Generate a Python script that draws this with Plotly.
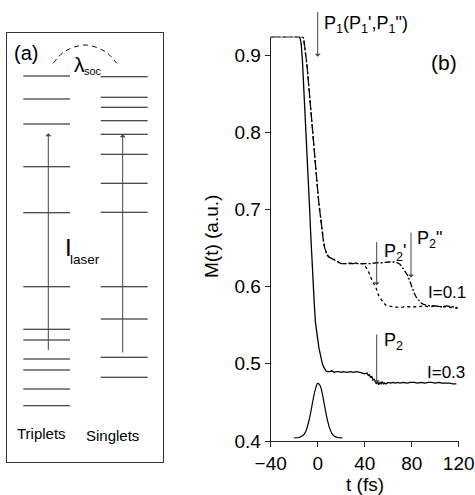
import plotly.graph_objects as go

W, H = 475, 495

# ---------------- data: panel (b) ----------------
# I = 0.3 (solid)
t_03 = [-40, -16, -15, -14, -13, -12, -11, -10, -9, -8, -7, -6, -5, -4, -3, -2, -1, 0, 1, 2, 3, 4, 5, 6, 7, 8,
        10, 12, 14, 16, 18, 20, 22, 25, 28, 30, 33, 36, 38, 40, 42, 43, 44, 45, 46, 47, 48, 49, 50, 51, 52, 53,
        54, 55, 56, 57, 58, 60, 62, 64, 66, 68, 70, 73, 76, 79, 82, 85, 88, 91, 94, 97, 100, 103, 106, 109,
        112, 115, 118]
m_03 = [0.924, 0.924, 0.922, 0.914, 0.893, 0.864, 0.837, 0.810, 0.776, 0.741, 0.705, 0.670, 0.634, 0.605,
        0.580, 0.555, 0.541, 0.530, 0.521, 0.514, 0.506, 0.500, 0.496, 0.493, 0.491, 0.490,
        0.490, 0.491, 0.489, 0.490, 0.490, 0.489, 0.490, 0.489, 0.490, 0.489, 0.490, 0.489, 0.488, 0.487,
        0.488, 0.485, 0.486, 0.482, 0.484, 0.479, 0.480, 0.476, 0.474, 0.477, 0.473, 0.476, 0.474, 0.477,
        0.474, 0.475, 0.474, 0.476, 0.475, 0.476, 0.475, 0.476, 0.475, 0.476, 0.475, 0.476, 0.476, 0.475,
        0.476, 0.475, 0.476, 0.476, 0.475, 0.476, 0.475, 0.475, 0.475, 0.474, 0.474]

# I = 0.1, path through P2' (dotted)
t_01a = [-40, -13, -12, -11, -10, -9, -8, -7, -6, -5, -4, -3, -2, -1, 0, 1, 2, 3, 4, 5, 6, 7, 8, 10, 12, 14,
         16, 18, 20, 25, 30, 35, 38, 40, 42, 44, 46, 48, 50, 52, 54, 56, 58, 60, 65, 70, 75, 80, 85, 90, 95,
         100, 105, 110, 115, 119]
m_01a = [0.924, 0.924, 0.922, 0.912, 0.898, 0.885, 0.866, 0.848, 0.833, 0.815, 0.795, 0.778, 0.760, 0.742,
         0.725, 0.708, 0.695, 0.680, 0.668, 0.658, 0.650, 0.645, 0.641, 0.638, 0.637, 0.635, 0.633, 0.632,
         0.630, 0.630, 0.631, 0.630, 0.630, 0.628, 0.623, 0.617, 0.609, 0.603, 0.597, 0.588, 0.583, 0.579,
         0.576, 0.575, 0.574, 0.573, 0.574, 0.574, 0.574, 0.575, 0.574, 0.575, 0.574, 0.574, 0.573, 0.572]

# I = 0.1, path through P2'' (dash-dot)
t_01b = [-40, -13, -12, -11, -10, -9, -8, -7, -6, -5, -4, -3, -2, -1, 0, 1, 2, 3, 4, 5, 6, 7, 8, 10, 12, 14,
         16, 18, 20, 25, 30, 35, 38, 45, 50, 55, 60, 65, 68, 70, 72, 74, 76, 78, 80, 82, 84, 86, 88, 90, 93,
         96, 100, 105, 110, 115, 119]
m_01b = [0.924, 0.924, 0.922, 0.912, 0.898, 0.885, 0.866, 0.848, 0.833, 0.815, 0.795, 0.778, 0.760, 0.742,
         0.725, 0.708, 0.695, 0.680, 0.668, 0.658, 0.650, 0.645, 0.641, 0.638, 0.637, 0.635, 0.633, 0.632,
         0.630, 0.630, 0.630, 0.630, 0.630, 0.630, 0.631, 0.631, 0.632, 0.632, 0.631, 0.629, 0.625, 0.621,
         0.616, 0.609, 0.600, 0.592, 0.586, 0.582, 0.579, 0.577, 0.576, 0.575, 0.575, 0.574, 0.575, 0.574, 0.573]

# laser pulse envelope (drawn on the M scale near the bottom)
t_pulse = [-20, -16, -14, -12, -10, -8, -6, -4, -2, 0, 2, 4, 6, 8, 10, 12, 14, 17, 21]
m_pulse = [0.404, 0.4045, 0.406, 0.408, 0.413, 0.423, 0.4365, 0.453, 0.467, 0.4747, 0.472, 0.4606, 0.4445,
           0.429, 0.4174, 0.410, 0.4064, 0.4045, 0.404]

x_ticks = [-40, 0, 40, 80, 120]
y_ticks = [0.4, 0.5, 0.6, 0.7, 0.8, 0.9]
y_tick_text = ["0.4", "0.5", "0.6", "0.7", "0.8", "0.9"]

# arrows (time, head M, tail M)
arrow_t = [0, 50.2, 79.4, 50.2]
arrow_head = [0.898, 0.602, 0.612, 0.475]
arrow_tail = [0.958, 0.660, 0.672, 0.540]

# ---------------- data: panel (a) level diagram ----------------
triplet_levels = [385.7, 362.7, 337.7, 295, 249, 175, 132.4, 121.7, 102.7, 91.7, 72.7, 56]
singlet_levels = [385, 364.4, 354.4, 341, 327.4, 307.4, 278.4, 249.4, 175, 142.7, 104.4, 84.4]

# ---------------- helpers ----------------
def px(x, y):
    return x / W, 1 - y / H

fig = go.Figure()

# panel (b) traces
fig.add_trace(go.Scatter(x=t_03, y=m_03, mode="lines", line=dict(color="black", width=1.3),
                         xaxis="x", yaxis="y", showlegend=False))
fig.add_trace(go.Scatter(x=t_01a, y=m_01a, mode="lines", line=dict(color="black", width=1.3, dash="dot"),
                         xaxis="x", yaxis="y", showlegend=False))
fig.add_trace(go.Scatter(x=t_01b, y=m_01b, mode="lines",
                         line=dict(color="black", width=1.3, dash="6px,2px,2px,2px"),
                         xaxis="x", yaxis="y", showlegend=False))
fig.add_trace(go.Scatter(x=t_pulse, y=m_pulse, mode="lines", line=dict(color="black", width=1.2, shape="spline"),
                         xaxis="x", yaxis="y", showlegend=False))

# panel (a) levels
TX0, TX1 = 16, 62.7
SX0, SX1 = 93.4, 140.4
lx, ly = [], []
for e in triplet_levels:
    lx += [TX0, TX1, None]
    ly += [e, e, None]
for e in singlet_levels:
    lx += [SX0, SX1, None]
    ly += [e, e, None]
fig.add_trace(go.Scatter(x=lx, y=ly, mode="lines", line=dict(color="#111", width=1.1),
                         xaxis="x2", yaxis="y2", showlegend=False))
# dashed arc (lambda_soc)
fig.add_trace(go.Scatter(x=[46, 57, 77.7, 98, 109.4], y=[398.4, 410, 416.7, 410, 398.4], mode="lines",
                         line=dict(color="#111", width=1, dash="5px,4px", shape="spline"),
                         xaxis="x2", yaxis="y2", showlegend=False))

fs = 19
FONT = "Liberation Sans, Arial, sans-serif"
x0b, x1b = 270.7, 458.7
ytop, ybot = 36.7, 441

fig.update_layout(
    width=W, height=H, margin=dict(l=0, r=0, t=0, b=0),
    paper_bgcolor="white", plot_bgcolor="white",
    font=dict(family=FONT, size=fs, color="black"),
    xaxis=dict(domain=[x0b / W, x1b / W], range=[-40, 120], tickvals=x_ticks,
               ticks="outside", ticklen=5, tickwidth=1, tickcolor="#222",
               showline=True, linecolor="#222", linewidth=1, showgrid=False, zeroline=False,
               anchor="y", automargin=False, tickfont=dict(size=fs)),
    yaxis=dict(domain=[1 - ybot / H, 1 - ytop / H], range=[0.4, 0.924], tickvals=y_ticks, ticktext=y_tick_text,
               ticks="outside", ticklen=5, tickwidth=1, tickcolor="#222",
               showline=True, linecolor="#222", linewidth=1, showgrid=False, zeroline=False,
               anchor="x", automargin=False, tickfont=dict(size=fs)),
    xaxis2=dict(domain=[7.3 / W, 163.3 / W], range=[0, 156], showline=True, mirror=True,
                linecolor="#333", linewidth=1, showticklabels=False, ticks="", showgrid=False,
                zeroline=False, anchor="y2", automargin=False),
    yaxis2=dict(domain=[1 - 461.7 / H, 1 - 32.7 / H], range=[0, 429], showline=True, mirror=True,
                linecolor="#333", linewidth=1, showticklabels=False, ticks="", showgrid=False,
                zeroline=False, anchor="x2", automargin=False),
)

ann = []
# arrows panel (b)
for t, hd, tl in zip(arrow_t, arrow_head, arrow_tail):
    ann.append(dict(x=t, y=hd, ax=t, ay=tl, xref="x", yref="y", axref="x", ayref="y", text="",
                    showarrow=True, arrowhead=1, arrowsize=1.0, arrowwidth=1, arrowcolor="#444"))
# arrows panel (a)
for xa, y0, y1 in [(41, 110, 328.4), (115.4, 107.7, 327.4)]:
    ann.append(dict(x=xa, y=y1, ax=xa, ay=y0, xref="x2", yref="y2", axref="x2", ayref="y2", text="",
                    showarrow=True, arrowhead=1, arrowsize=1.0, arrowwidth=1, arrowcolor="#444"))

def label(text, x, y, size, xanchor="center", textangle=0):
    X, Y = px(x, y)
    ann.append(dict(text=text, x=X, y=Y, xref="paper", yref="paper", showarrow=False,
                    xanchor=xanchor, yanchor="middle", textangle=textangle,
                    font=dict(size=size, family=FONT, color="black")))

label("P<sub>1</sub>(P<sub>1</sub>',P<sub>1</sub>\")", 322, 25, 18, xanchor="left")
label("(b)", 443.5, 63, 21)
label("P<sub>2</sub>'", 382, 253, 18, xanchor="left")
label("P<sub>2</sub>\"", 415, 239, 18, xanchor="left")
label("P<sub>2</sub>", 382, 341, 18, xanchor="left")
label("I=0.1", 447, 292, 17)
label("I=0.3", 446, 372, 17)
label("M(t) (a.u.)", 211, 237, fs, textangle=-90)
label("t (fs)", 364.7, 484, fs)

label("(a)", 25.7, 53, 20)
label("λ", 79.5, 65, 21)
label("soc", 93.3, 71, 11)
label("I", 68, 247, 24)
label("laser", 84.7, 259, 13.5)
label("Triplets", 41.7, 433, 15)
label("Singlets", 112, 435, 15)

fig.update_layout(annotations=ann)
fig.write_html("out.html", config={"displayModeBar": False},
               post_script="document.body.style.margin='0';document.body.style.overflow='hidden';")
